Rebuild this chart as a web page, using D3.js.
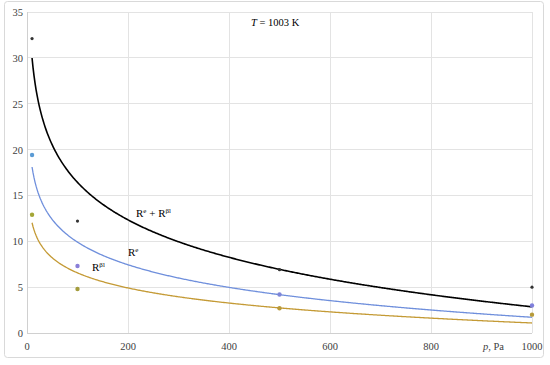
<!DOCTYPE html>
<html><head><meta charset="utf-8">
<script src="https://cdn.jsdelivr.net/npm/d3@7"></script>
<style>body{margin:0;background:#fff} svg{display:block;font-family:"Liberation Serif","Times New Roman",serif}</style>
</head><body><svg id="c" width="550" height="365"></svg>
<script>
const pressures = [10, 100, 500, 1000];
const totalR = [32.1, 12.2, 6.9, 5.0];
const electrodeR = [19.4, 7.3, 4.2, 3.0];
const betaR = [12.9, 4.8, 2.7, 2.0];
const xTicks = [0, 200, 400, 600, 800, 1000];
const yTicks = [0, 5, 10, 15, 20, 25, 30, 35];

const svg = d3.select("#c");
const x = d3.scaleLinear().domain([0, 1000]).range([27, 532]);
const y = d3.scaleLinear().domain([0, 35]).range([333, 12]);

// outer chart border
svg.append("rect").attr("x", 4.5).attr("y", 1.5).attr("width", 539).attr("height", 356)
  .attr("rx", 3).attr("fill", "#fff").attr("stroke", "#d9d9d9");

// gridlines
svg.append("g").selectAll("line").data(yTicks.slice(1)).join("line")
  .attr("x1", x(0)).attr("x2", x(1000)).attr("y1", d => y(d)).attr("y2", d => y(d))
  .attr("stroke", "#e3e3e3").attr("stroke-width", 1).attr("shape-rendering", "crispEdges");
svg.append("g").selectAll("line").data(xTicks.slice(1)).join("line")
  .attr("x1", d => x(d)).attr("x2", d => x(d)).attr("y1", y(0)).attr("y2", y(35))
  .attr("stroke", "#e3e3e3").attr("stroke-width", 1).attr("shape-rendering", "crispEdges");
// axis lines
svg.append("line").attr("x1", x(0)).attr("x2", x(1000)).attr("y1", y(0)).attr("y2", y(0))
  .attr("stroke", "#d0d0d0").attr("shape-rendering", "crispEdges");
svg.append("line").attr("x1", x(0)).attr("x2", x(0)).attr("y1", y(0)).attr("y2", y(35))
  .attr("stroke", "#d0d0d0").attr("shape-rendering", "crispEdges");

// tick labels
svg.append("g").selectAll("text").data(yTicks).join("text")
  .attr("x", 23).attr("y", d => y(d) + 4).attr("text-anchor", "end")
  .attr("font-size", 10.5).attr("fill", "#404040").text(d => d);
svg.append("g").selectAll("text").data(xTicks).join("text")
  .attr("x", d => x(d)).attr("y", 350).attr("text-anchor", "middle")
  .attr("font-size", 10.5).attr("fill", "#404040").text(d => d);

// Excel-style logarithmic trendline fitted to the data
function logFit(xs, ys) {
  const lx = xs.map(Math.log);
  const mx = d3.mean(lx), my = d3.mean(ys);
  let sxy = 0, sxx = 0;
  lx.forEach((v, i) => { sxy += (v - mx) * (ys[i] - my); sxx += (v - mx) * (v - mx); });
  const b = sxy / sxx, a = my - b * mx;
  return p => a + b * Math.log(p);
}
const samples = d3.range(10, 1000.01, 2);
const line = d3.line().x(d => x(d[0])).y(d => y(d[1])).curve(d3.curveLinear);

const series = [
  {vals: totalR, line: "#000000", lw: 1.6, pts: ["#333333"], r: 1.6},
  {vals: electrodeR, line: "#6f8fdc", lw: 1.3, pts: ["#5b9bd5", "#8a7fd8", "#7d86d8", "#7f7fdc"], r: 2.2},
  {vals: betaR, line: "#c49a35", lw: 1.3, pts: ["#a4a636", "#a39c3c", "#b99a3a", "#b79b3a"], r: 2.2}
];
series.forEach(s => {
  const f = logFit(pressures, s.vals);
  svg.append("path").datum(samples.map(p => [p, f(p)])).attr("d", line)
    .attr("fill", "none").attr("stroke", s.line).attr("stroke-width", s.lw);
});
series.forEach(s => {
  svg.append("g").selectAll("circle").data(s.vals).join("circle")
    .attr("cx", (d, i) => x(pressures[i])).attr("cy", d => y(d)).attr("r", s.r)
    .attr("fill", (d, i) => s.pts[Math.min(i, s.pts.length - 1)]);
});

// annotations
function supLabel(tx, ty, parts) {
  const t = svg.append("text").attr("x", tx).attr("y", ty).attr("font-size", 11).attr("fill", "#000");
  parts.forEach(p => {
    const ts = t.append("tspan").text(p.t);
    if (p.sup) ts.attr("font-size", 7).attr("dy", -4);
    if (p.down) ts.attr("dy", 4);
  });
}
supLabel(136, 217, [{t: "R"}, {t: "e", sup: true}, {t: " + R", down: true}, {t: "βl", sup: true}]);
supLabel(128, 256, [{t: "R"}, {t: "e", sup: true}]);
supLabel(92, 271, [{t: "R"}, {t: "βl", sup: true}]);

const tl = svg.append("text").attr("x", 251).attr("y", 26).attr("font-size", 10.5).attr("fill", "#000");
tl.append("tspan").attr("font-style", "italic").text("T");
tl.append("tspan").text(" = 1003 K");

const pl = svg.append("text").attr("x", 483).attr("y", 350).attr("font-size", 10.5).attr("fill", "#404040");
pl.append("tspan").attr("font-style", "italic").text("p");
pl.append("tspan").text(", Pa");
</script></body></html>
